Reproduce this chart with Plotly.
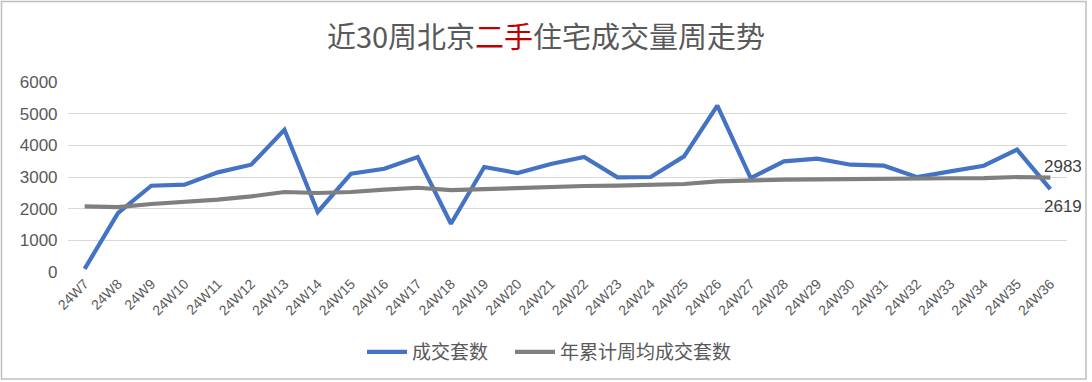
import plotly.graph_objects as go

weeks = ["24W7", "24W8", "24W9", "24W10", "24W11", "24W12", "24W13", "24W14", "24W15", "24W16",
         "24W17", "24W18", "24W19", "24W20", "24W21", "24W22", "24W23", "24W24", "24W25", "24W26",
         "24W27", "24W28", "24W29", "24W30", "24W31", "24W32", "24W33", "24W34", "24W35", "24W36"]
deals = [100, 1860, 2725, 2757, 3146, 3388, 4494, 1895, 3104, 3260,
         3631, 1525, 3315, 3126, 3410, 3631, 2988, 3000, 3652, 5252,
         2968, 3494, 3578, 3388, 3357, 2995, 3178, 3357, 3862, 2619]
avg_deals = [2075, 2050, 2147, 2210, 2283, 2388, 2526, 2494, 2526, 2600,
             2660, 2585, 2621, 2653, 2684, 2716, 2725, 2747, 2779, 2863,
             2895, 2915, 2925, 2940, 2945, 2950, 2960, 2965, 3000, 2983]
name_deals = "成交套数"
name_avg = "年累计周均成交套数"
title_html = "近30周北京<span style='color:#C00000'>二手</span>住宅成交量周走势"

FONT = "Noto Sans CJK SC, Liberation Sans, Arial, sans-serif"

fig = go.Figure()
fig.add_trace(go.Scatter(x=weeks, y=deals, mode="lines", name=name_deals, legend="legend",
                         line=dict(color="#4472C4", width=4.2)))
fig.add_trace(go.Scatter(x=weeks, y=avg_deals, mode="lines", name=name_avg, legend="legend2",
                         line=dict(color="#7F7F7F", width=4.2)))

# end-point data labels
fig.add_annotation(x=weeks[-1], y=avg_deals[-1], text=str(avg_deals[-1]), showarrow=False,
                   xanchor="left", yanchor="middle", xshift=-8, yshift=11,
                   font=dict(family="Liberation Sans, Arial", size=17, color="#404040"))
fig.add_annotation(x=weeks[-1], y=deals[-1], text=str(deals[-1]), showarrow=False,
                   xanchor="left", yanchor="middle", xshift=-8, yshift=-17,
                   font=dict(family="Liberation Sans, Arial", size=17, color="#404040"))

L, R, T, B = 68, 25, 82, 110
W, H = 1092, 382
pw, ph = W - L - R, H - T - B
fig.add_shape(type="rect", xref="paper", yref="paper",
              x0=(1.5 - L) / pw, x1=(1086 - L) / pw,
              y0=(T + ph - 379) / ph, y1=(T + ph - 1.5) / ph,
              line=dict(color="#BFBFBF", width=1.5), fillcolor="rgba(0,0,0,0)", layer="below")

legend_common = dict(orientation="h", xref="container", xanchor="left",
                     y=(H - 352) / H, yref="container", yanchor="middle",
                     font=dict(size=19, color="#595959", family=FONT),
                     itemwidth=40, tracegroupgap=0, bgcolor="rgba(0,0,0,0)")

fig.update_layout(
    width=W, height=H,
    margin=dict(l=L, r=R, t=T, b=B, autoexpand=False),
    paper_bgcolor="white", plot_bgcolor="white",
    font=dict(family=FONT, color="#595959"),
    title=dict(text=title_html, x=0.5, xref="container", xanchor="center",
               y=1 - 38 / H, yref="container", yanchor="middle",
               font=dict(size=29, color="#595959", family=FONT)),
    legend=dict(x=362 / W, **legend_common),
    legend2=dict(x=510 / W, **legend_common),
    showlegend=True,
    xaxis=dict(type="category", tickangle=-45, showgrid=False, showline=False, ticks="",
               automargin=False,
               tickfont=dict(size=14, color="#595959", family="Liberation Sans, Arial"),
               range=[-0.5, len(weeks) - 0.5]),
    yaxis=dict(range=[0, 6000], dtick=1000, showgrid=True, gridcolor="#D9D9D9", gridwidth=1.3,
               zeroline=False, showline=False, ticks="", automargin=False,
               tickfont=dict(size=17, color="#595959", family="Liberation Sans, Arial"),
               ticksuffix="  "),
)

fig.write_html("out.html", config={"displayModeBar": False},
               post_script="document.body.style.margin='0';document.body.style.overflow='hidden';")
